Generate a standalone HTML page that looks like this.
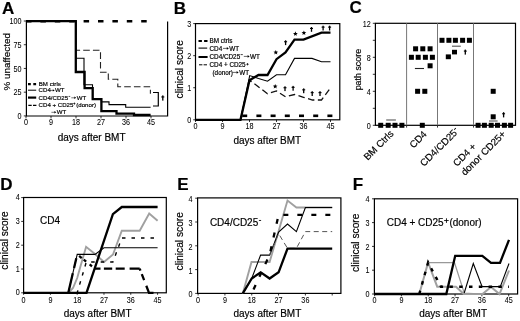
<!DOCTYPE html>
<html><head><meta charset="utf-8"><style>
html,body{margin:0;padding:0;background:#fff;}
svg{display:block;font-family:"Liberation Sans",sans-serif;filter:grayscale(1);}
text{stroke:#000;stroke-width:0.18px;}
</style></head><body>
<svg width="520" height="321" viewBox="0 0 520 321">
<rect width="520" height="321" fill="#fff"/>
<text x="1.9" y="13.5" font-size="17" text-anchor="start" font-weight="bold" fill="#000">A</text>
<polyline points="26.40,20.50 26.40,116.00 167.60,116.00 167.60,21.50" fill="none" stroke="#000" stroke-width="1.2" stroke-linejoin="miter" stroke-linecap="butt"/>
<line x1="23.8" y1="21.000000000000014" x2="26.4" y2="21.000000000000014" stroke="#000" stroke-width="0.8"/>
<text x="0" y="0" font-size="8.2" text-anchor="end" font-weight="normal" fill="#000" style="stroke-width:0.06px" transform="translate(21.50,24.10) scale(0.88,1)">100</text>
<line x1="23.8" y1="44.72500000000001" x2="26.4" y2="44.72500000000001" stroke="#000" stroke-width="0.8"/>
<text x="0" y="0" font-size="8.2" text-anchor="end" font-weight="normal" fill="#000" style="stroke-width:0.06px" transform="translate(21.50,47.83) scale(0.88,1)">75</text>
<line x1="23.8" y1="68.45000000000002" x2="26.4" y2="68.45000000000002" stroke="#000" stroke-width="0.8"/>
<text x="0" y="0" font-size="8.2" text-anchor="end" font-weight="normal" fill="#000" style="stroke-width:0.06px" transform="translate(21.50,71.55) scale(0.88,1)">50</text>
<line x1="23.8" y1="92.17500000000001" x2="26.4" y2="92.17500000000001" stroke="#000" stroke-width="0.8"/>
<text x="0" y="0" font-size="8.2" text-anchor="end" font-weight="normal" fill="#000" style="stroke-width:0.06px" transform="translate(21.50,95.28) scale(0.88,1)">25</text>
<line x1="23.8" y1="115.9" x2="26.4" y2="115.9" stroke="#000" stroke-width="0.8"/>
<text x="0" y="0" font-size="8.2" text-anchor="end" font-weight="normal" fill="#000" style="stroke-width:0.06px" transform="translate(21.50,119.00) scale(0.88,1)">0</text>
<line x1="26.0" y1="116" x2="26.0" y2="118.4" stroke="#000" stroke-width="0.8"/>
<text x="0" y="0" font-size="8.2" text-anchor="middle" font-weight="normal" fill="#000" style="stroke-width:0.06px" transform="translate(26.00,125.40) scale(0.88,1)">0</text>
<line x1="51.001999999999995" y1="116" x2="51.001999999999995" y2="118.4" stroke="#000" stroke-width="0.8"/>
<text x="0" y="0" font-size="8.2" text-anchor="middle" font-weight="normal" fill="#000" style="stroke-width:0.06px" transform="translate(51.00,125.40) scale(0.88,1)">9</text>
<line x1="76.00399999999999" y1="116" x2="76.00399999999999" y2="118.4" stroke="#000" stroke-width="0.8"/>
<text x="0" y="0" font-size="8.2" text-anchor="middle" font-weight="normal" fill="#000" style="stroke-width:0.06px" transform="translate(76.00,125.40) scale(0.88,1)">18</text>
<line x1="101.006" y1="116" x2="101.006" y2="118.4" stroke="#000" stroke-width="0.8"/>
<text x="0" y="0" font-size="8.2" text-anchor="middle" font-weight="normal" fill="#000" style="stroke-width:0.06px" transform="translate(101.01,125.40) scale(0.88,1)">27</text>
<line x1="126.008" y1="116" x2="126.008" y2="118.4" stroke="#000" stroke-width="0.8"/>
<text x="0" y="0" font-size="8.2" text-anchor="middle" font-weight="normal" fill="#000" style="stroke-width:0.06px" transform="translate(126.01,125.40) scale(0.88,1)">36</text>
<line x1="151.01" y1="116" x2="151.01" y2="118.4" stroke="#000" stroke-width="0.8"/>
<text x="0" y="0" font-size="8.2" text-anchor="middle" font-weight="normal" fill="#000" style="stroke-width:0.06px" transform="translate(151.01,125.40) scale(0.88,1)">45</text>
<text x="91.6" y="140.8" font-size="10" text-anchor="middle" font-weight="normal" fill="#000">days after BMT</text>
<text x="0" y="0" font-size="9.9" text-anchor="middle" font-weight="normal" fill="#000" transform="translate(9.5,61.8) rotate(-90)">% unaffected</text>
<polyline points="26.00,21.20 151.00,21.20" fill="none" stroke="#000" stroke-width="2.6" stroke-dasharray="5.5 8.9" stroke-linejoin="miter" stroke-linecap="butt"/>
<polyline points="75.80,21.20 75.80,50.20 100.50,50.20 100.50,72.20 108.30,72.20 108.30,79.30 117.80,79.30 117.80,86.80 150.40,86.80 150.40,93.80" fill="none" stroke="#222" stroke-width="1.1" stroke-dasharray="6.6 3.1" stroke-linejoin="miter" stroke-linecap="butt" stroke-dashoffset="2.4"/>
<polyline points="75.80,21.20 75.80,58.30 84.00,58.30 84.00,84.80 92.50,84.80 92.50,99.00 101.40,99.00 101.40,101.90 109.00,101.90 109.00,104.60 125.70,104.60 125.70,107.30 150.60,107.30" fill="none" stroke="#000" stroke-width="1.1" stroke-linejoin="miter" stroke-linecap="butt"/>
<polyline points="26.00,21.20 75.80,21.20 75.80,72.00 84.60,72.00 84.60,88.20 92.70,88.20 92.70,99.20 101.40,99.20 101.40,111.20 116.50,111.20 116.50,113.70 134.00,113.70 134.00,115.00 150.60,115.00" fill="none" stroke="#000" stroke-width="2.3" stroke-linejoin="miter" stroke-linecap="butt"/>
<polyline points="153.00,92.50 158.30,92.50 158.30,106.00 153.00,106.00" fill="none" stroke="#000" stroke-width="1.2" stroke-linejoin="miter" stroke-linecap="butt"/>
<rect x="162.15" y="95.40" width="1.30" height="5.20" fill="#000"/>
<rect x="161.30" y="96.41" width="3.00" height="1.10" fill="#000"/>
<line x1="28" y1="84.1" x2="36.2" y2="84.1" stroke="#000" stroke-width="2.1" stroke-dasharray="2.8 2.5"/>
<line x1="28" y1="90.2" x2="36.2" y2="90.2" stroke="#000" stroke-width="1"/>
<line x1="28" y1="97.6" x2="36.2" y2="97.6" stroke="#000" stroke-width="2.2"/>
<line x1="28.3" y1="105.3" x2="36.4" y2="105.3" stroke="#000" stroke-width="1.2" stroke-dasharray="3.4 1.3"/>
<text x="38.8" y="86.4" font-size="6.1" text-anchor="start" font-weight="normal" fill="#000">BM ctrls</text>
<text x="38.6" y="92.4" font-size="6.1" text-anchor="start" font-weight="normal" fill="#000">CD4</text>
<line x1="50.70" y1="90.40" x2="53.10" y2="90.40" stroke="#000" stroke-width="0.55"/>
<polygon points="52.80,89.20 54.70,90.40 52.80,91.60" fill="#000"/>
<text x="55.0" y="92.4" font-size="6.1" text-anchor="start" font-weight="normal" fill="#000">WT</text>
<text x="38.6" y="99.6" font-size="6.1" text-anchor="start" font-weight="normal" fill="#000">CD4/CD25</text>
<rect x="68.60" y="95.95" width="1.60" height="0.70" fill="#000"/>
<line x1="71.30" y1="97.80" x2="74.60" y2="97.80" stroke="#000" stroke-width="0.55"/>
<polygon points="74.30,96.60 76.20,97.80 74.30,99.00" fill="#000"/>
<text x="76.7" y="99.6" font-size="6.1" text-anchor="start" font-weight="normal" fill="#000">WT</text>
<text x="38.6" y="106.6" font-size="6.1" text-anchor="start" font-weight="normal" fill="#000">CD4 + CD25</text>
<rect x="73.20" y="103.27" width="2.20" height="0.65" fill="#000"/>
<rect x="73.97" y="102.50" width="0.65" height="2.20" fill="#000"/>
<text x="76.3" y="106.6" font-size="6.1" text-anchor="start" font-weight="normal" fill="#000">(donor)</text>
<line x1="51.40" y1="112.30" x2="54.70" y2="112.30" stroke="#000" stroke-width="0.55"/>
<polygon points="54.40,111.10 56.30,112.30 54.40,113.50" fill="#000"/>
<text x="56.8" y="114.4" font-size="6.1" text-anchor="start" font-weight="normal" fill="#000">WT</text>
<text x="173.7" y="13.5" font-size="17" text-anchor="start" font-weight="bold" fill="#000">B</text>
<rect x="195.5" y="23.6" width="144.3" height="96.2" fill="none" stroke="#000" stroke-width="1.2"/>
<line x1="193.2" y1="119.8" x2="195.5" y2="119.8" stroke="#000" stroke-width="0.8"/>
<text x="0" y="0" font-size="8.2" text-anchor="end" font-weight="normal" fill="#000" style="stroke-width:0.06px" transform="translate(191.20,123.10) scale(0.88,1)">0</text>
<line x1="193.2" y1="87.72999999999999" x2="195.5" y2="87.72999999999999" stroke="#000" stroke-width="0.8"/>
<text x="0" y="0" font-size="8.2" text-anchor="end" font-weight="normal" fill="#000" style="stroke-width:0.06px" transform="translate(191.20,91.03) scale(0.88,1)">1</text>
<line x1="193.2" y1="55.66" x2="195.5" y2="55.66" stroke="#000" stroke-width="0.8"/>
<text x="0" y="0" font-size="8.2" text-anchor="end" font-weight="normal" fill="#000" style="stroke-width:0.06px" transform="translate(191.20,58.96) scale(0.88,1)">2</text>
<line x1="193.2" y1="23.58999999999999" x2="195.5" y2="23.58999999999999" stroke="#000" stroke-width="0.8"/>
<text x="0" y="0" font-size="8.2" text-anchor="end" font-weight="normal" fill="#000" style="stroke-width:0.06px" transform="translate(191.20,26.89) scale(0.88,1)">3</text>
<line x1="195.5" y1="119.8" x2="195.5" y2="122" stroke="#000" stroke-width="0.8"/>
<text x="0" y="0" font-size="8.2" text-anchor="middle" font-weight="normal" fill="#000" style="stroke-width:0.06px" transform="translate(195.50,128.60) scale(0.88,1)">0</text>
<line x1="222.5" y1="119.8" x2="222.5" y2="122" stroke="#000" stroke-width="0.8"/>
<text x="0" y="0" font-size="8.2" text-anchor="middle" font-weight="normal" fill="#000" style="stroke-width:0.06px" transform="translate(222.50,128.60) scale(0.88,1)">9</text>
<line x1="249.5" y1="119.8" x2="249.5" y2="122" stroke="#000" stroke-width="0.8"/>
<text x="0" y="0" font-size="8.2" text-anchor="middle" font-weight="normal" fill="#000" style="stroke-width:0.06px" transform="translate(249.50,128.60) scale(0.88,1)">18</text>
<line x1="276.5" y1="119.8" x2="276.5" y2="122" stroke="#000" stroke-width="0.8"/>
<text x="0" y="0" font-size="8.2" text-anchor="middle" font-weight="normal" fill="#000" style="stroke-width:0.06px" transform="translate(276.50,128.60) scale(0.88,1)">27</text>
<line x1="303.5" y1="119.8" x2="303.5" y2="122" stroke="#000" stroke-width="0.8"/>
<text x="0" y="0" font-size="8.2" text-anchor="middle" font-weight="normal" fill="#000" style="stroke-width:0.06px" transform="translate(303.50,128.60) scale(0.88,1)">36</text>
<line x1="330.5" y1="119.8" x2="330.5" y2="122" stroke="#000" stroke-width="0.8"/>
<text x="0" y="0" font-size="8.2" text-anchor="middle" font-weight="normal" fill="#000" style="stroke-width:0.06px" transform="translate(330.50,128.60) scale(0.88,1)">45</text>
<text x="267.3" y="144.3" font-size="10" text-anchor="middle" font-weight="normal" fill="#000">days after BMT</text>
<text x="0" y="0" font-size="10.2" text-anchor="middle" font-weight="normal" fill="#000" transform="translate(182.7,69.3) rotate(-90)">clinical score</text>
<line x1="242.2" y1="115.8" x2="247.2" y2="115.8" stroke="#000" stroke-width="2.6"/>
<line x1="256.4" y1="115.8" x2="261.4" y2="115.8" stroke="#000" stroke-width="2.6"/>
<line x1="270.59999999999997" y1="115.8" x2="275.59999999999997" y2="115.8" stroke="#000" stroke-width="2.6"/>
<line x1="284.79999999999995" y1="115.8" x2="289.79999999999995" y2="115.8" stroke="#000" stroke-width="2.6"/>
<line x1="299.0" y1="115.8" x2="304.0" y2="115.8" stroke="#000" stroke-width="2.6"/>
<line x1="313.2" y1="115.8" x2="318.2" y2="115.8" stroke="#000" stroke-width="2.6"/>
<line x1="327.4" y1="115.8" x2="332.4" y2="115.8" stroke="#000" stroke-width="2.6"/>
<polyline points="240.50,119.80 249.50,80.00 267.50,93.70 276.50,91.00 285.50,96.80 294.50,94.50 303.50,97.30 312.50,100.00 321.50,100.00 330.50,88.00" fill="none" stroke="#111" stroke-width="1.3" stroke-dasharray="6.5 3.5" stroke-linejoin="miter" stroke-linecap="butt" stroke-dashoffset="3"/>
<polyline points="195.50,119.80 240.50,119.80 249.70,75.60 258.50,78.50 267.50,81.20 276.50,74.70 285.50,74.70 294.50,58.40 312.00,58.40 321.50,61.80 330.50,61.80" fill="none" stroke="#000" stroke-width="1.1" stroke-linejoin="miter" stroke-linecap="butt"/>
<polyline points="195.50,119.80 240.50,119.80 249.50,80.20 258.50,75.00 267.50,75.00 276.50,59.20 285.50,52.40 294.50,39.60 303.50,39.60 321.50,32.70 330.50,32.70" fill="none" stroke="#000" stroke-width="2.3" stroke-linejoin="miter" stroke-linecap="butt"/>
<polygon points="275.80,50.00 276.45,51.61 278.18,51.73 276.85,52.84 277.27,54.52 275.80,53.60 274.33,54.52 274.75,52.84 273.42,51.73 275.15,51.61" fill="#000"/>
<polygon points="295.40,31.30 296.05,32.91 297.78,33.03 296.45,34.14 296.87,35.82 295.40,34.90 293.93,35.82 294.35,34.14 293.02,33.03 294.75,32.91" fill="#000"/>
<polygon points="303.90,30.50 304.55,32.11 306.28,32.23 304.95,33.34 305.37,35.02 303.90,34.10 302.43,35.02 302.85,33.34 301.52,32.23 303.25,32.11" fill="#000"/>
<polygon points="275.20,83.90 275.85,85.51 277.58,85.63 276.25,86.74 276.67,88.42 275.20,87.50 273.73,88.42 274.15,86.74 272.82,85.63 274.55,85.51" fill="#000"/>
<rect x="284.95" y="40.30" width="1.30" height="4.80" fill="#000"/>
<rect x="284.10" y="41.19" width="3.00" height="1.10" fill="#000"/>
<rect x="310.85" y="27.00" width="1.30" height="4.80" fill="#000"/>
<rect x="310.00" y="27.89" width="3.00" height="1.10" fill="#000"/>
<rect x="322.45" y="25.70" width="1.30" height="4.80" fill="#000"/>
<rect x="321.60" y="26.59" width="3.00" height="1.10" fill="#000"/>
<rect x="328.95" y="25.70" width="1.30" height="4.80" fill="#000"/>
<rect x="328.10" y="26.59" width="3.00" height="1.10" fill="#000"/>
<rect x="284.35" y="86.30" width="1.30" height="4.80" fill="#000"/>
<rect x="283.50" y="87.19" width="3.00" height="1.10" fill="#000"/>
<rect x="292.45" y="85.90" width="1.30" height="4.80" fill="#000"/>
<rect x="291.60" y="86.79" width="3.00" height="1.10" fill="#000"/>
<rect x="303.05" y="88.40" width="1.30" height="4.80" fill="#000"/>
<rect x="302.20" y="89.29" width="3.00" height="1.10" fill="#000"/>
<rect x="311.55" y="91.20" width="1.30" height="4.80" fill="#000"/>
<rect x="310.70" y="92.09" width="3.00" height="1.10" fill="#000"/>
<rect x="319.35" y="91.20" width="1.30" height="4.80" fill="#000"/>
<rect x="318.50" y="92.09" width="3.00" height="1.10" fill="#000"/>
<line x1="198.5" y1="40.9" x2="207.6" y2="40.9" stroke="#000" stroke-width="2.0" stroke-dasharray="3.4 2.2"/>
<line x1="198.5" y1="48.1" x2="207.2" y2="48.1" stroke="#000" stroke-width="1.1"/>
<line x1="198.5" y1="57.0" x2="207.6" y2="57.0" stroke="#000" stroke-width="2.0"/>
<line x1="199" y1="64.8" x2="207" y2="64.8" stroke="#000" stroke-width="1.0" stroke-dasharray="3.4 1.2"/>
<text x="209.6" y="42.9" font-size="6.35" text-anchor="start" font-weight="normal" fill="#000">BM ctrls</text>
<text x="209.5" y="50.7" font-size="6.35" text-anchor="start" font-weight="normal" fill="#000">CD4</text>
<line x1="223.00" y1="48.40" x2="227.10" y2="48.40" stroke="#000" stroke-width="0.6"/>
<polygon points="226.80,47.10 228.80,48.40 226.80,49.70" fill="#000"/>
<text x="229.3" y="50.7" font-size="6.35" text-anchor="start" font-weight="normal" fill="#000">WT</text>
<text x="209.5" y="58.6" font-size="6.35" text-anchor="start" font-weight="normal" fill="#000">CD4/CD25</text>
<rect x="240.60" y="54.33" width="2.20" height="0.75" fill="#000"/>
<line x1="243.80" y1="56.40" x2="247.90" y2="56.40" stroke="#000" stroke-width="0.6"/>
<polygon points="247.60,55.10 249.60,56.40 247.60,57.70" fill="#000"/>
<text x="250.0" y="58.6" font-size="6.35" text-anchor="start" font-weight="normal" fill="#000">WT</text>
<text x="209.5" y="66.8" font-size="6.35" text-anchor="start" font-weight="normal" fill="#000">CD4 + CD25</text>
<rect x="246.30" y="63.85" width="2.40" height="0.70" fill="#000"/>
<rect x="247.15" y="63.00" width="0.70" height="2.40" fill="#000"/>
<text x="212.5" y="74.7" font-size="6.35" text-anchor="start" font-weight="normal" fill="#000">(donor)</text>
<line x1="232.40" y1="72.40" x2="236.90" y2="72.40" stroke="#000" stroke-width="0.6"/>
<polygon points="236.60,71.10 238.60,72.40 236.60,73.70" fill="#000"/>
<text x="239.2" y="74.7" font-size="6.35" text-anchor="start" font-weight="normal" fill="#000">WT</text>
<text x="349.6" y="13.4" font-size="17" text-anchor="start" font-weight="bold" fill="#000">C</text>
<rect x="375.4" y="23.3" width="140.1" height="102.0" fill="none" stroke="#000" stroke-width="1.2"/>
<line x1="406.6" y1="23.3" x2="406.6" y2="125.3" stroke="#777" stroke-width="1"/>
<line x1="406.6" y1="125.3" x2="406.6" y2="127.6" stroke="#222" stroke-width="0.9"/>
<line x1="437.5" y1="23.3" x2="437.5" y2="125.3" stroke="#777" stroke-width="1"/>
<line x1="437.5" y1="125.3" x2="437.5" y2="127.6" stroke="#222" stroke-width="0.9"/>
<line x1="473.5" y1="23.3" x2="473.5" y2="125.3" stroke="#777" stroke-width="1"/>
<line x1="473.5" y1="125.3" x2="473.5" y2="127.6" stroke="#222" stroke-width="0.9"/>
<line x1="372.8" y1="23.299999999999997" x2="375.4" y2="23.299999999999997" stroke="#000" stroke-width="0.8"/>
<line x1="372.8" y1="40.3" x2="375.4" y2="40.3" stroke="#000" stroke-width="0.8"/>
<line x1="372.8" y1="57.3" x2="375.4" y2="57.3" stroke="#000" stroke-width="0.8"/>
<line x1="372.8" y1="74.3" x2="375.4" y2="74.3" stroke="#000" stroke-width="0.8"/>
<line x1="372.8" y1="91.3" x2="375.4" y2="91.3" stroke="#000" stroke-width="0.8"/>
<line x1="372.8" y1="108.3" x2="375.4" y2="108.3" stroke="#000" stroke-width="0.8"/>
<line x1="372.8" y1="125.3" x2="375.4" y2="125.3" stroke="#000" stroke-width="0.8"/>
<text x="0" y="0" font-size="8.2" text-anchor="end" font-weight="normal" fill="#000" style="stroke-width:0.06px" transform="translate(370.70,26.70) scale(0.88,1)">12</text>
<text x="0" y="0" font-size="8.2" text-anchor="end" font-weight="normal" fill="#000" style="stroke-width:0.06px" transform="translate(370.70,60.70) scale(0.88,1)">8</text>
<text x="0" y="0" font-size="8.2" text-anchor="end" font-weight="normal" fill="#000" style="stroke-width:0.06px" transform="translate(370.70,94.70) scale(0.88,1)">4</text>
<text x="0" y="0" font-size="8.2" text-anchor="end" font-weight="normal" fill="#000" style="stroke-width:0.06px" transform="translate(370.70,128.70) scale(0.88,1)">0</text>
<text x="0" y="0" font-size="8.9" text-anchor="middle" font-weight="normal" fill="#000" transform="translate(360.9,69.6) rotate(-90)">path score</text>
<line x1="386.2" y1="120.0" x2="395.9" y2="120.0" stroke="#555" stroke-width="1.1"/>
<line x1="414.9" y1="68.5" x2="424" y2="68.5" stroke="#222" stroke-width="1.1"/>
<line x1="452" y1="46.2" x2="460.8" y2="46.2" stroke="#555" stroke-width="1.1"/>
<line x1="489" y1="121" x2="497.6" y2="121" stroke="#555" stroke-width="1.1"/>
<rect x="378.20" y="122.80" width="5.00" height="5.00" fill="#000"/>
<rect x="385.70" y="122.80" width="5.00" height="5.00" fill="#000"/>
<rect x="392.50" y="122.80" width="5.00" height="5.00" fill="#000"/>
<rect x="399.40" y="122.80" width="5.00" height="5.00" fill="#000"/>
<rect x="413.10" y="46.30" width="5.00" height="5.00" fill="#000"/>
<rect x="420.30" y="46.30" width="5.00" height="5.00" fill="#000"/>
<rect x="427.60" y="46.30" width="5.00" height="5.00" fill="#000"/>
<rect x="408.90" y="54.80" width="5.00" height="5.00" fill="#000"/>
<rect x="415.70" y="54.80" width="5.00" height="5.00" fill="#000"/>
<rect x="422.90" y="54.80" width="5.00" height="5.00" fill="#000"/>
<rect x="429.90" y="54.80" width="5.00" height="5.00" fill="#000"/>
<rect x="427.60" y="63.30" width="5.00" height="5.00" fill="#000"/>
<rect x="415.10" y="88.80" width="5.00" height="5.00" fill="#000"/>
<rect x="422.30" y="88.80" width="5.00" height="5.00" fill="#000"/>
<rect x="419.80" y="122.80" width="5.00" height="5.00" fill="#000"/>
<rect x="439.50" y="37.80" width="5.00" height="5.00" fill="#000"/>
<rect x="446.40" y="37.80" width="5.00" height="5.00" fill="#000"/>
<rect x="452.90" y="37.80" width="5.00" height="5.00" fill="#000"/>
<rect x="460.10" y="37.80" width="5.00" height="5.00" fill="#000"/>
<rect x="466.90" y="37.80" width="5.00" height="5.00" fill="#000"/>
<rect x="452.00" y="49.80" width="5.00" height="4.60" fill="#000"/>
<rect x="445.80" y="54.40" width="5.10" height="4.80" fill="#000"/>
<rect x="464.65" y="49.60" width="1.30" height="5.00" fill="#000"/>
<rect x="463.85" y="50.55" width="2.90" height="1.10" fill="#000"/>
<rect x="475.60" y="122.80" width="5.00" height="5.00" fill="#000"/>
<rect x="481.90" y="122.80" width="5.00" height="5.00" fill="#000"/>
<rect x="488.70" y="122.80" width="5.00" height="5.00" fill="#000"/>
<rect x="495.00" y="122.80" width="5.00" height="5.00" fill="#000"/>
<rect x="501.90" y="122.80" width="5.00" height="5.00" fill="#000"/>
<rect x="508.10" y="122.80" width="5.00" height="5.00" fill="#000"/>
<rect x="490.70" y="88.80" width="5.00" height="5.00" fill="#000"/>
<rect x="490.70" y="114.30" width="5.00" height="5.00" fill="#000"/>
<rect x="502.95" y="112.20" width="1.30" height="5.20" fill="#000"/>
<rect x="502.15" y="113.21" width="2.90" height="1.10" fill="#000"/>
<text x="0" y="0" font-size="9.8" text-anchor="end" font-weight="normal" fill="#000" transform="translate(394.2,134.3) rotate(-45)">BM Ctrls</text>
<text x="0" y="0" font-size="9.8" text-anchor="end" font-weight="normal" fill="#000" transform="translate(427.4,134.8) rotate(-45)">CD4</text>
<text x="0" y="0" font-size="9.8" text-anchor="end" font-weight="normal" fill="#000" transform="translate(457.6,133.6) rotate(-45)">CD4/CD25</text>
<rect x="0.3" y="-5.6" width="2.3" height="0.85" fill="#000" transform="translate(457.6,133.6) rotate(-45)"/>
<text x="0" y="0" font-size="9.8" text-anchor="end" font-weight="normal" fill="#000" transform="translate(476.8,147.2) rotate(-45)">CD4 +</text>
<text x="0" y="0" font-size="9.8" text-anchor="end" font-weight="normal" fill="#000" transform="translate(506.4,134.6) rotate(-45)">donor CD25+</text>
<text x="0.2" y="190.4" font-size="17" text-anchor="start" font-weight="bold" fill="#000">D</text>
<rect x="23.6" y="197.5" width="142.7" height="95.3" fill="none" stroke="#000" stroke-width="1.2"/>
<line x1="21.2" y1="292.8" x2="23.6" y2="292.8" stroke="#000" stroke-width="0.8"/>
<text x="0" y="0" font-size="8.2" text-anchor="end" font-weight="normal" fill="#000" style="stroke-width:0.06px" transform="translate(19.80,295.40) scale(0.88,1)">0</text>
<line x1="21.2" y1="269.0" x2="23.6" y2="269.0" stroke="#000" stroke-width="0.8"/>
<text x="0" y="0" font-size="8.2" text-anchor="end" font-weight="normal" fill="#000" style="stroke-width:0.06px" transform="translate(19.80,271.60) scale(0.88,1)">1</text>
<line x1="21.2" y1="245.20000000000002" x2="23.6" y2="245.20000000000002" stroke="#000" stroke-width="0.8"/>
<text x="0" y="0" font-size="8.2" text-anchor="end" font-weight="normal" fill="#000" style="stroke-width:0.06px" transform="translate(19.80,247.80) scale(0.88,1)">2</text>
<line x1="21.2" y1="221.4" x2="23.6" y2="221.4" stroke="#000" stroke-width="0.8"/>
<text x="0" y="0" font-size="8.2" text-anchor="end" font-weight="normal" fill="#000" style="stroke-width:0.06px" transform="translate(19.80,224.00) scale(0.88,1)">3</text>
<line x1="21.2" y1="197.60000000000002" x2="23.6" y2="197.60000000000002" stroke="#000" stroke-width="0.8"/>
<text x="0" y="0" font-size="8.2" text-anchor="end" font-weight="normal" fill="#000" style="stroke-width:0.06px" transform="translate(19.80,200.20) scale(0.88,1)">4</text>
<line x1="23.6" y1="292.8" x2="23.6" y2="294.8" stroke="#000" stroke-width="0.8"/>
<text x="0" y="0" font-size="8.2" text-anchor="middle" font-weight="normal" fill="#000" style="stroke-width:0.06px" transform="translate(23.60,302.60) scale(0.88,1)">0</text>
<line x1="50.393" y1="292.8" x2="50.393" y2="294.8" stroke="#000" stroke-width="0.8"/>
<text x="0" y="0" font-size="8.2" text-anchor="middle" font-weight="normal" fill="#000" style="stroke-width:0.06px" transform="translate(50.39,302.60) scale(0.88,1)">9</text>
<line x1="77.186" y1="292.8" x2="77.186" y2="294.8" stroke="#000" stroke-width="0.8"/>
<text x="0" y="0" font-size="8.2" text-anchor="middle" font-weight="normal" fill="#000" style="stroke-width:0.06px" transform="translate(77.19,302.60) scale(0.88,1)">18</text>
<line x1="103.97899999999998" y1="292.8" x2="103.97899999999998" y2="294.8" stroke="#000" stroke-width="0.8"/>
<text x="0" y="0" font-size="8.2" text-anchor="middle" font-weight="normal" fill="#000" style="stroke-width:0.06px" transform="translate(103.98,302.60) scale(0.88,1)">27</text>
<line x1="130.772" y1="292.8" x2="130.772" y2="294.8" stroke="#000" stroke-width="0.8"/>
<text x="0" y="0" font-size="8.2" text-anchor="middle" font-weight="normal" fill="#000" style="stroke-width:0.06px" transform="translate(130.77,302.60) scale(0.88,1)">36</text>
<line x1="157.565" y1="292.8" x2="157.565" y2="294.8" stroke="#000" stroke-width="0.8"/>
<text x="0" y="0" font-size="8.2" text-anchor="middle" font-weight="normal" fill="#000" style="stroke-width:0.06px" transform="translate(157.56,302.60) scale(0.88,1)">45</text>
<text x="97.6" y="316.5" font-size="10" text-anchor="middle" font-weight="normal" fill="#000">days after BMT</text>
<text x="0" y="0" font-size="10.2" text-anchor="middle" font-weight="normal" fill="#000" transform="translate(8.2,240.5) rotate(-90)">clinical score</text>
<text x="40.1" y="224.3" font-size="10" text-anchor="start" font-weight="normal" fill="#000">CD4</text>
<polyline points="68.50,292.80 73.00,288.00 77.20,278.00 80.00,268.00 86.10,246.80 95.00,254.00 104.00,262.00 113.00,254.50 121.80,230.70 139.70,230.70 149.20,213.60 157.60,220.80" fill="none" stroke="#a0a0a0" stroke-width="1.9" stroke-linejoin="miter" stroke-linecap="butt"/>
<polyline points="23.60,292.80 68.30,292.80 77.20,254.40 95.00,254.40 104.00,247.80 157.60,247.80" fill="none" stroke="#000" stroke-width="1.1" stroke-linejoin="miter" stroke-linecap="butt"/>
<polyline points="77.20,292.80 86.30,262.00 112.90,262.00 121.80,238.00 157.60,238.00" fill="none" stroke="#000" stroke-width="1.4" stroke-dasharray="3.5 6" stroke-linejoin="miter" stroke-linecap="butt" stroke-dashoffset="1"/>
<polyline points="68.30,292.80 77.20,254.40" fill="none" stroke="#000" stroke-width="2.3" stroke-dasharray="20 5.5 10 10" stroke-linejoin="miter" stroke-linecap="butt"/>
<polyline points="77.20,254.40 95.00,268.70" fill="none" stroke="#000" stroke-width="2.3" stroke-dasharray="0 2.5 3.3 2.6 3.1 4.5 3 20" stroke-linejoin="miter" stroke-linecap="butt"/>
<polyline points="95.00,268.70 139.70,268.70" fill="none" stroke="#000" stroke-width="2.3" stroke-dasharray="5.5 3.4 8.3 3.5 9 4.9 12" stroke-linejoin="miter" stroke-linecap="butt"/>
<polyline points="139.70,268.70 149.00,292.80 153.50,292.80" fill="none" stroke="#000" stroke-width="2.3" stroke-dasharray="2 3.8 6.5 6 30" stroke-linejoin="miter" stroke-linecap="butt"/>
<polyline points="23.60,292.80 86.50,292.80 112.90,214.20 121.80,207.00 157.60,207.00" fill="none" stroke="#000" stroke-width="2.3" stroke-linejoin="miter" stroke-linecap="butt"/>
<text x="177.3" y="190.1" font-size="17" text-anchor="start" font-weight="bold" fill="#000">E</text>
<rect x="197.6" y="197.9" width="143.3" height="95.5" fill="none" stroke="#000" stroke-width="1.2"/>
<line x1="195.2" y1="293.4" x2="197.6" y2="293.4" stroke="#000" stroke-width="0.8"/>
<text x="0" y="0" font-size="8.2" text-anchor="end" font-weight="normal" fill="#000" style="stroke-width:0.06px" transform="translate(192.60,297.40) scale(0.88,1)">0</text>
<line x1="195.2" y1="269.59999999999997" x2="197.6" y2="269.59999999999997" stroke="#000" stroke-width="0.8"/>
<text x="0" y="0" font-size="8.2" text-anchor="end" font-weight="normal" fill="#000" style="stroke-width:0.06px" transform="translate(192.60,273.60) scale(0.88,1)">1</text>
<line x1="195.2" y1="245.79999999999998" x2="197.6" y2="245.79999999999998" stroke="#000" stroke-width="0.8"/>
<text x="0" y="0" font-size="8.2" text-anchor="end" font-weight="normal" fill="#000" style="stroke-width:0.06px" transform="translate(192.60,249.80) scale(0.88,1)">2</text>
<line x1="195.2" y1="221.99999999999997" x2="197.6" y2="221.99999999999997" stroke="#000" stroke-width="0.8"/>
<text x="0" y="0" font-size="8.2" text-anchor="end" font-weight="normal" fill="#000" style="stroke-width:0.06px" transform="translate(192.60,226.00) scale(0.88,1)">3</text>
<line x1="195.2" y1="198.2" x2="197.6" y2="198.2" stroke="#000" stroke-width="0.8"/>
<text x="0" y="0" font-size="8.2" text-anchor="end" font-weight="normal" fill="#000" style="stroke-width:0.06px" transform="translate(192.60,202.20) scale(0.88,1)">4</text>
<line x1="198.1" y1="293.4" x2="198.1" y2="295.5" stroke="#000" stroke-width="0.8"/>
<text x="0" y="0" font-size="8.2" text-anchor="middle" font-weight="normal" fill="#000" style="stroke-width:0.06px" transform="translate(198.10,302.60) scale(0.88,1)">0</text>
<line x1="224.92" y1="293.4" x2="224.92" y2="295.5" stroke="#000" stroke-width="0.8"/>
<text x="0" y="0" font-size="8.2" text-anchor="middle" font-weight="normal" fill="#000" style="stroke-width:0.06px" transform="translate(224.92,302.60) scale(0.88,1)">9</text>
<line x1="251.74" y1="293.4" x2="251.74" y2="295.5" stroke="#000" stroke-width="0.8"/>
<text x="0" y="0" font-size="8.2" text-anchor="middle" font-weight="normal" fill="#000" style="stroke-width:0.06px" transform="translate(251.74,302.60) scale(0.88,1)">18</text>
<line x1="278.56" y1="293.4" x2="278.56" y2="295.5" stroke="#000" stroke-width="0.8"/>
<text x="0" y="0" font-size="8.2" text-anchor="middle" font-weight="normal" fill="#000" style="stroke-width:0.06px" transform="translate(278.56,302.60) scale(0.88,1)">27</text>
<line x1="305.38" y1="293.4" x2="305.38" y2="295.5" stroke="#000" stroke-width="0.8"/>
<text x="0" y="0" font-size="8.2" text-anchor="middle" font-weight="normal" fill="#000" style="stroke-width:0.06px" transform="translate(305.38,302.60) scale(0.88,1)">36</text>
<line x1="332.2" y1="293.4" x2="332.2" y2="295.5" stroke="#000" stroke-width="0.8"/>
<text x="267.4" y="316.5" font-size="10" text-anchor="middle" font-weight="normal" fill="#000">days after BMT</text>
<text x="0" y="0" font-size="10.2" text-anchor="middle" font-weight="normal" fill="#000" transform="translate(183.3,241.3) rotate(-90)">clinical score</text>
<text x="209.9" y="225.9" font-size="10" text-anchor="start" font-weight="normal" fill="#000">CD4/CD25</text>
<rect x="258.90" y="219.97" width="2.20" height="0.85" fill="#000"/>
<polyline points="242.80,293.40 251.50,262.00 269.60,262.00 287.50,200.50 296.40,207.50 332.20,207.50" fill="none" stroke="#a0a0a0" stroke-width="1.9" stroke-linejoin="miter" stroke-linecap="butt"/>
<polyline points="242.80,293.40 251.70,278.50 260.60,255.10 269.60,255.10 278.60,232.00 287.50,224.00 296.40,231.60 305.40,207.50 332.20,207.50" fill="none" stroke="#000" stroke-width="1.1" stroke-linejoin="miter" stroke-linecap="butt"/>
<polyline points="269.60,255.10 278.60,233.70 287.50,248.30 296.40,248.30 305.40,231.60 332.20,231.60" fill="none" stroke="#555" stroke-width="1.0" stroke-dasharray="5 3.5" stroke-linejoin="miter" stroke-linecap="butt"/>
<polyline points="251.70,293.40 260.70,274.00 269.60,255.00 278.60,214.80 332.20,214.80" fill="none" stroke="#000" stroke-width="2.3" stroke-dasharray="5 9" stroke-linejoin="miter" stroke-linecap="butt" stroke-dashoffset="9.7"/>
<polyline points="242.80,293.40 251.70,278.50 260.70,272.30 269.60,278.50 278.60,272.30 287.50,248.60 332.20,248.60" fill="none" stroke="#000" stroke-width="2.3" stroke-linejoin="miter" stroke-linecap="butt"/>
<text x="352.7" y="190.2" font-size="17" text-anchor="start" font-weight="bold" fill="#000">F</text>
<rect x="374.4" y="198.8" width="143.2" height="95.2" fill="none" stroke="#000" stroke-width="1.2"/>
<line x1="372" y1="294.0" x2="374.4" y2="294.0" stroke="#000" stroke-width="0.8"/>
<text x="0" y="0" font-size="8.2" text-anchor="end" font-weight="normal" fill="#000" style="stroke-width:0.06px" transform="translate(369.60,297.20) scale(0.88,1)">0</text>
<line x1="372" y1="270.2" x2="374.4" y2="270.2" stroke="#000" stroke-width="0.8"/>
<text x="0" y="0" font-size="8.2" text-anchor="end" font-weight="normal" fill="#000" style="stroke-width:0.06px" transform="translate(369.60,273.40) scale(0.88,1)">1</text>
<line x1="372" y1="246.4" x2="374.4" y2="246.4" stroke="#000" stroke-width="0.8"/>
<text x="0" y="0" font-size="8.2" text-anchor="end" font-weight="normal" fill="#000" style="stroke-width:0.06px" transform="translate(369.60,249.60) scale(0.88,1)">2</text>
<line x1="372" y1="222.6" x2="374.4" y2="222.6" stroke="#000" stroke-width="0.8"/>
<text x="0" y="0" font-size="8.2" text-anchor="end" font-weight="normal" fill="#000" style="stroke-width:0.06px" transform="translate(369.60,225.80) scale(0.88,1)">3</text>
<line x1="372" y1="198.8" x2="374.4" y2="198.8" stroke="#000" stroke-width="0.8"/>
<text x="0" y="0" font-size="8.2" text-anchor="end" font-weight="normal" fill="#000" style="stroke-width:0.06px" transform="translate(369.60,202.00) scale(0.88,1)">4</text>
<line x1="374.6" y1="294" x2="374.6" y2="296.3" stroke="#000" stroke-width="0.8"/>
<text x="0" y="0" font-size="8.2" text-anchor="middle" font-weight="normal" fill="#000" style="stroke-width:0.06px" transform="translate(374.60,302.70) scale(0.88,1)">0</text>
<line x1="401.42" y1="294" x2="401.42" y2="296.3" stroke="#000" stroke-width="0.8"/>
<text x="0" y="0" font-size="8.2" text-anchor="middle" font-weight="normal" fill="#000" style="stroke-width:0.06px" transform="translate(401.42,302.70) scale(0.88,1)">9</text>
<line x1="428.24" y1="294" x2="428.24" y2="296.3" stroke="#000" stroke-width="0.8"/>
<text x="0" y="0" font-size="8.2" text-anchor="middle" font-weight="normal" fill="#000" style="stroke-width:0.06px" transform="translate(428.24,302.70) scale(0.88,1)">18</text>
<line x1="455.06" y1="294" x2="455.06" y2="296.3" stroke="#000" stroke-width="0.8"/>
<text x="0" y="0" font-size="8.2" text-anchor="middle" font-weight="normal" fill="#000" style="stroke-width:0.06px" transform="translate(455.06,302.70) scale(0.88,1)">27</text>
<line x1="481.88" y1="294" x2="481.88" y2="296.3" stroke="#000" stroke-width="0.8"/>
<text x="0" y="0" font-size="8.2" text-anchor="middle" font-weight="normal" fill="#000" style="stroke-width:0.06px" transform="translate(481.88,302.70) scale(0.88,1)">36</text>
<line x1="508.70000000000005" y1="294" x2="508.70000000000005" y2="296.3" stroke="#000" stroke-width="0.8"/>
<text x="0" y="0" font-size="8.2" text-anchor="middle" font-weight="normal" fill="#000" style="stroke-width:0.06px" transform="translate(508.70,302.70) scale(0.88,1)">45</text>
<text x="453.1" y="316.6" font-size="10" text-anchor="middle" font-weight="normal" fill="#000">days after BMT</text>
<text x="0" y="0" font-size="10.2" text-anchor="middle" font-weight="normal" fill="#000" transform="translate(358.5,242.8) rotate(-90)">clinical score</text>
<text x="386.7" y="225.8" font-size="10" text-anchor="start" font-weight="normal" fill="#000">CD4 + CD25</text>
<rect x="444.10" y="220.17" width="4.60" height="0.85" fill="#000"/>
<rect x="445.97" y="218.30" width="0.85" height="4.60" fill="#000"/>
<text x="449.4" y="225.8" font-size="10" text-anchor="start" font-weight="normal" fill="#000">(donor)</text>
<polyline points="419.30,294.00 428.10,262.50 437.20,286.70 456.00,286.70 463.80,294.00 482.50,294.00 491.00,287.00 499.50,294.00 509.00,270.50" fill="none" stroke="#a0a0a0" stroke-width="2.0" stroke-linejoin="miter" stroke-linecap="butt"/>
<polyline points="428.10,262.70 454.50,262.70 464.20,293.00 482.00,294.00" fill="none" stroke="#999" stroke-width="1.2" stroke-linejoin="miter" stroke-linecap="butt"/>
<polyline points="464.20,293.00 473.30,263.50 482.10,286.60 500.30,286.60 509.00,263.50" fill="none" stroke="#000" stroke-width="1.1" stroke-linejoin="miter" stroke-linecap="butt"/>
<polyline points="419.30,294.00 428.10,262.50 441.00,286.80 509.00,286.80" fill="none" stroke="#000" stroke-width="2.4" stroke-dasharray="3.5 6.3" stroke-linejoin="miter" stroke-linecap="butt"/>
<polyline points="374.40,294.00 446.30,294.00 455.20,255.80 482.30,255.80 491.00,262.80 500.00,262.80 509.00,239.80" fill="none" stroke="#000" stroke-width="2.3" stroke-linejoin="miter" stroke-linecap="butt"/>
</svg>
</body></html>
